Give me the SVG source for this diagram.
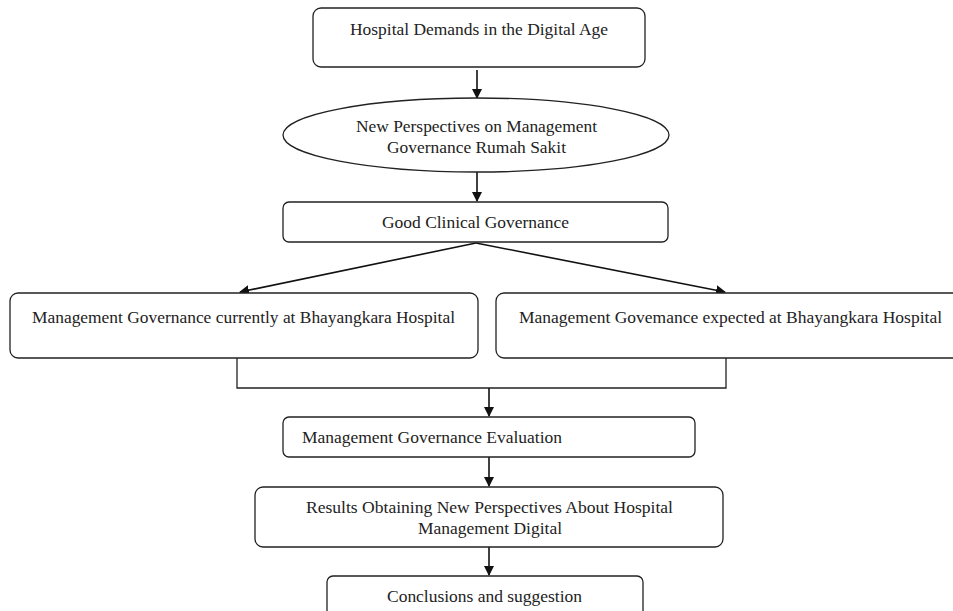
<svg xmlns="http://www.w3.org/2000/svg" width="953" height="611" viewBox="0 0 953 611">
<style>
.n{fill:#fff;stroke:#222;stroke-width:1.3}
.t{font-family:"Liberation Serif",serif;font-size:16px;fill:#222}
.c{stroke:#111;stroke-width:1.6;fill:none}
.b{stroke:#222;stroke-width:1.3;fill:none}
</style>
<defs>
<marker id="ah" markerWidth="10" markerHeight="10" refX="9" refY="5" orient="auto" markerUnits="userSpaceOnUse"><path d="M0,0 L10,5 L0,10 z" fill="#111"/></marker>
</defs>
<rect width="953" height="611" fill="#fff"/>
<g id="connectors">
<line class="c" x1="477" y1="70" x2="477" y2="98" marker-end="url(#ah)"/>
<line class="c" x1="477" y1="172" x2="477" y2="201" marker-end="url(#ah)"/>
<line class="c" x1="476" y1="243" x2="240" y2="292" marker-end="url(#ah)"/>
<line class="c" x1="476" y1="243" x2="725" y2="292" marker-end="url(#ah)"/>
<polyline class="b" points="237,358 237,388 726,388 726,358"/>
<line class="c" x1="489" y1="388" x2="489" y2="416" marker-end="url(#ah)"/>
<line class="c" x1="489" y1="457" x2="489" y2="486" marker-end="url(#ah)"/>
<line class="c" x1="489" y1="547" x2="489" y2="575" marker-end="url(#ah)"/>
</g>
<g id="n1"><rect class="n" x="313" y="8" width="332" height="59" rx="8"/><text class="t" x="350" y="35" textLength="258" lengthAdjust="spacingAndGlyphs">Hospital Demands in the Digital Age</text></g>
<g id="n2"><ellipse class="n" cx="476" cy="135" rx="193" ry="37"/><text class="t" x="356" y="132" textLength="241" lengthAdjust="spacingAndGlyphs">New Perspectives on Management</text><text class="t" x="387" y="153" textLength="179" lengthAdjust="spacingAndGlyphs">Governance Rumah Sakit</text></g>
<g id="n3"><rect class="n" x="283" y="202" width="385" height="40" rx="6"/><text class="t" x="382" y="228" textLength="187" lengthAdjust="spacingAndGlyphs">Good Clinical Governance</text></g>
<g id="n4"><rect class="n" x="10" y="293" width="468" height="65" rx="8"/><text class="t" x="32" y="323" textLength="423" lengthAdjust="spacingAndGlyphs">Management Governance currently at Bhayangkara Hospital</text></g>
<g id="n5"><rect class="n" x="496" y="293" width="470" height="65" rx="8"/><text class="t" x="519" y="323" textLength="423" lengthAdjust="spacingAndGlyphs">Management Govemance expected at Bhayangkara Hospital</text></g>
<g id="n6"><rect class="n" x="283" y="417" width="412" height="40" rx="6"/><text class="t" x="302" y="443" textLength="260" lengthAdjust="spacingAndGlyphs">Management Governance Evaluation</text></g>
<g id="n7"><rect class="n" x="255" y="487" width="468" height="60" rx="8"/><text class="t" x="306" y="513" textLength="367" lengthAdjust="spacingAndGlyphs">Results Obtaining New Perspectives About Hospital</text><text class="t" x="418" y="534" textLength="144" lengthAdjust="spacingAndGlyphs">Management Digital</text></g>
<g id="n8"><rect class="n" x="327" y="576" width="316" height="45" rx="6"/><text class="t" x="387" y="602" textLength="195" lengthAdjust="spacingAndGlyphs">Conclusions and suggestion</text></g>
</svg>
